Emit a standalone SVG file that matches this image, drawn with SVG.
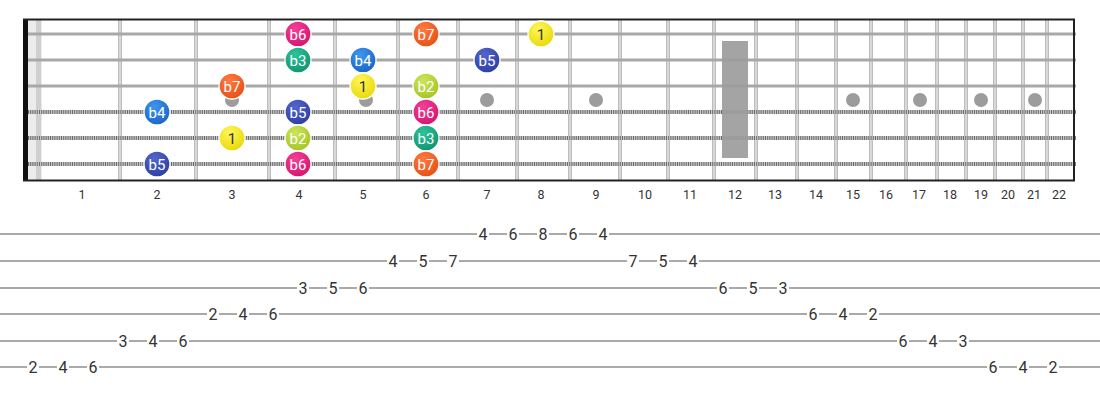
<svg xmlns="http://www.w3.org/2000/svg" width="1100" height="400" viewBox="0 0 1100 400">
<style>
.fw{fill:#bdbdbd}
.fwc{fill:#f4f4f4}
.ps{stroke:#a8a8a8;stroke-width:2.8}
.wsb{stroke:#c8c8c8;stroke-width:4}
.wsd{stroke:#6a6a6a;stroke-width:4;stroke-dasharray:1 1.2}
.inlay{fill:#9c9c9c}
.fn{font-family:Roboto,"Liberation Sans",sans-serif;font-size:12.5px;fill:#333;text-anchor:middle}
.nl{font-family:Roboto,"Liberation Sans",sans-serif;font-size:15px;fill:#fff;text-anchor:middle}
.nd{fill:#333}
.nc{stroke:#fff;stroke-width:1.3}
.tl{stroke:#aaa;stroke-width:2}
.tb{fill:#fff}
.tn{font-family:Roboto,"Liberation Sans",sans-serif;font-size:16px;fill:#333;text-anchor:middle}
</style>
<defs>
<radialGradient id="g1" cx="0.4" cy="0.3" r="0.8"><stop offset="0" stop-color="#fff65a"/><stop offset="1" stop-color="#e6d600"/></radialGradient>
<radialGradient id="g2" cx="0.4" cy="0.3" r="0.8"><stop offset="0" stop-color="#cde45a"/><stop offset="1" stop-color="#9fc21e"/></radialGradient>
<radialGradient id="g3" cx="0.4" cy="0.3" r="0.8"><stop offset="0" stop-color="#2fc39a"/><stop offset="1" stop-color="#0b8f6c"/></radialGradient>
<radialGradient id="g4" cx="0.4" cy="0.3" r="0.8"><stop offset="0" stop-color="#3f95f0"/><stop offset="1" stop-color="#1560c0"/></radialGradient>
<radialGradient id="g5" cx="0.4" cy="0.3" r="0.8"><stop offset="0" stop-color="#5366cc"/><stop offset="1" stop-color="#2a3a9e"/></radialGradient>
<radialGradient id="g6" cx="0.4" cy="0.3" r="0.8"><stop offset="0" stop-color="#f24096"/><stop offset="1" stop-color="#d40f6c"/></radialGradient>
<radialGradient id="g7" cx="0.4" cy="0.3" r="0.8"><stop offset="0" stop-color="#ff7a40"/><stop offset="1" stop-color="#e24d12"/></radialGradient>
</defs>
<rect width="1100" height="400" fill="#fff"/>
<g id="fretboard">
<rect x="28" y="20" width="14" height="160" fill="#ececec"/>
<rect x="36" y="20" width="5" height="160" fill="#cfcfcf"/>
<g id="frets">
<rect class="fw" x="118" y="20" width="4" height="160"/><rect class="fwc" x="119.5" y="20" width="1" height="160"/>
<rect class="fw" x="194" y="20" width="4" height="160"/><rect class="fwc" x="195.5" y="20" width="1" height="160"/>
<rect class="fw" x="267" y="20" width="4" height="160"/><rect class="fwc" x="268.5" y="20" width="1" height="160"/>
<rect class="fw" x="333" y="20" width="4" height="160"/><rect class="fwc" x="334.5" y="20" width="1" height="160"/>
<rect class="fw" x="396" y="20" width="4" height="160"/><rect class="fwc" x="397.5" y="20" width="1" height="160"/>
<rect class="fw" x="456" y="20" width="4" height="160"/><rect class="fwc" x="457.5" y="20" width="1" height="160"/>
<rect class="fw" x="515" y="20" width="4" height="160"/><rect class="fwc" x="516.5" y="20" width="1" height="160"/>
<rect class="fw" x="568" y="20" width="4" height="160"/><rect class="fwc" x="569.5" y="20" width="1" height="160"/>
<rect class="fw" x="618" y="20" width="4" height="160"/><rect class="fwc" x="619.5" y="20" width="1" height="160"/>
<rect class="fw" x="666" y="20" width="4" height="160"/><rect class="fwc" x="667.5" y="20" width="1" height="160"/>
<rect class="fw" x="712" y="20" width="4" height="160"/><rect class="fwc" x="713.5" y="20" width="1" height="160"/>
<rect class="fw" x="754" y="20" width="4" height="160"/><rect class="fwc" x="755.5" y="20" width="1" height="160"/>
<rect class="fw" x="795" y="20" width="4" height="160"/><rect class="fwc" x="796.5" y="20" width="1" height="160"/>
<rect class="fw" x="834" y="20" width="4" height="160"/><rect class="fwc" x="835.5" y="20" width="1" height="160"/>
<rect class="fw" x="869" y="20" width="4" height="160"/><rect class="fwc" x="870.5" y="20" width="1" height="160"/>
<rect class="fw" x="904" y="20" width="4" height="160"/><rect class="fwc" x="905.5" y="20" width="1" height="160"/>
<rect class="fw" x="935" y="20" width="4" height="160"/><rect class="fwc" x="936.5" y="20" width="1" height="160"/>
<rect class="fw" x="964" y="20" width="4" height="160"/><rect class="fwc" x="965.5" y="20" width="1" height="160"/>
<rect class="fw" x="993" y="20" width="4" height="160"/><rect class="fwc" x="994.5" y="20" width="1" height="160"/>
<rect class="fw" x="1021" y="20" width="4" height="160"/><rect class="fwc" x="1022.5" y="20" width="1" height="160"/>
<rect class="fw" x="1045" y="20" width="4" height="160"/><rect class="fwc" x="1046.5" y="20" width="1" height="160"/>
</g>
<g id="inlays">
<circle class="inlay" cx="232" cy="100" r="7"/>
<circle class="inlay" cx="366" cy="100" r="7"/>
<circle class="inlay" cx="487" cy="100" r="7"/>
<circle class="inlay" cx="596" cy="100" r="7"/>
<circle class="inlay" cx="853" cy="100" r="7"/>
<circle class="inlay" cx="920" cy="100" r="7"/>
<circle class="inlay" cx="981" cy="100" r="7"/>
<circle class="inlay" cx="1035" cy="100" r="7"/>
</g>
<g id="strings">
<line class="ps" x1="28" y1="34" x2="1076" y2="34"/>
<line class="ps" x1="28" y1="60" x2="1076" y2="60"/>
<line class="ps" x1="28" y1="86" x2="1076" y2="86"/>
<line class="wsb" x1="28" y1="112" x2="1076" y2="112"/><line class="wsd" x1="28" y1="112" x2="1076" y2="112"/>
<line class="wsb" x1="28" y1="138" x2="1076" y2="138"/><line class="wsd" x1="28" y1="138" x2="1076" y2="138"/>
<line class="wsb" x1="28" y1="164" x2="1076" y2="164"/><line class="wsd" x1="28" y1="164" x2="1076" y2="164"/>
</g>
<rect id="fret12-marker" x="722" y="41" width="26" height="117" fill="#9c9c9c" opacity="0.92"/>
<rect x="23" y="19" width="5" height="162" fill="#111"/>
<line x1="23" y1="19.5" x2="1075" y2="19.5" stroke="#222" stroke-width="2"/>
<line x1="23" y1="180.5" x2="1075" y2="180.5" stroke="#222" stroke-width="2"/>
<line x1="1074" y1="19" x2="1074" y2="181" stroke="#222" stroke-width="2"/>
</g>
<g id="fret-numbers">
<text class="fn" x="82" y="199">1</text><text class="fn" x="157" y="199">2</text><text class="fn" x="232" y="199">3</text><text class="fn" x="299" y="199">4</text><text class="fn" x="363" y="199">5</text><text class="fn" x="426" y="199">6</text><text class="fn" x="487" y="199">7</text><text class="fn" x="541" y="199">8</text><text class="fn" x="596" y="199">9</text><text class="fn" x="645" y="199">10</text><text class="fn" x="690" y="199">11</text><text class="fn" x="735" y="199">12</text><text class="fn" x="775" y="199">13</text><text class="fn" x="816" y="199">14</text><text class="fn" x="853" y="199">15</text><text class="fn" x="886" y="199">16</text><text class="fn" x="919" y="199">17</text><text class="fn" x="950" y="199">18</text><text class="fn" x="981" y="199">19</text><text class="fn" x="1008" y="199">20</text><text class="fn" x="1034" y="199">21</text><text class="fn" x="1059" y="199">22</text>
</g>
<g id="notes">
<g id="n-s1-f4"><circle class="nc" cx="298" cy="34" r="13" fill="url(#g6)"/><text class="nl" x="298" y="39.5">b6</text></g>
<g id="n-s1-f6"><circle class="nc" cx="426" cy="34" r="13" fill="url(#g7)"/><text class="nl" x="426" y="39.5">b7</text></g>
<g id="n-s1-f8"><circle class="nc" cx="541" cy="34" r="13" fill="url(#g1)"/><text class="nl nd" x="541" y="39.5">1</text></g>
<g id="n-s2-f4"><circle class="nc" cx="298" cy="60" r="13" fill="url(#g3)"/><text class="nl" x="298" y="65.5">b3</text></g>
<g id="n-s2-f5"><circle class="nc" cx="363" cy="60" r="13" fill="url(#g4)"/><text class="nl" x="363" y="65.5">b4</text></g>
<g id="n-s2-f7"><circle class="nc" cx="487" cy="60" r="13" fill="url(#g5)"/><text class="nl" x="487" y="65.5">b5</text></g>
<g id="n-s3-f3"><circle class="nc" cx="232" cy="86" r="13" fill="url(#g7)"/><text class="nl" x="232" y="91.5">b7</text></g>
<g id="n-s3-f5"><circle class="nc" cx="363" cy="86" r="13" fill="url(#g1)"/><text class="nl nd" x="363" y="91.5">1</text></g>
<g id="n-s3-f6"><circle class="nc" cx="426" cy="86" r="13" fill="url(#g2)"/><text class="nl" x="426" y="91.5">b2</text></g>
<g id="n-s4-f2"><circle class="nc" cx="157" cy="112" r="13" fill="url(#g4)"/><text class="nl" x="157" y="117.5">b4</text></g>
<g id="n-s4-f4"><circle class="nc" cx="298" cy="112" r="13" fill="url(#g5)"/><text class="nl" x="298" y="117.5">b5</text></g>
<g id="n-s4-f6"><circle class="nc" cx="426" cy="112" r="13" fill="url(#g6)"/><text class="nl" x="426" y="117.5">b6</text></g>
<g id="n-s5-f3"><circle class="nc" cx="232" cy="138" r="13" fill="url(#g1)"/><text class="nl nd" x="232" y="143.5">1</text></g>
<g id="n-s5-f4"><circle class="nc" cx="298" cy="138" r="13" fill="url(#g2)"/><text class="nl" x="298" y="143.5">b2</text></g>
<g id="n-s5-f6"><circle class="nc" cx="426" cy="138" r="13" fill="url(#g3)"/><text class="nl" x="426" y="143.5">b3</text></g>
<g id="n-s6-f2"><circle class="nc" cx="157" cy="164" r="13" fill="url(#g5)"/><text class="nl" x="157" y="169.5">b5</text></g>
<g id="n-s6-f4"><circle class="nc" cx="298" cy="164" r="13" fill="url(#g6)"/><text class="nl" x="298" y="169.5">b6</text></g>
<g id="n-s6-f6"><circle class="nc" cx="426" cy="164" r="13" fill="url(#g7)"/><text class="nl" x="426" y="169.5">b7</text></g>
</g>
<g id="tab-lines">
<line class="tl" x1="0" y1="234" x2="1100" y2="234"/>
<line class="tl" x1="0" y1="261" x2="1100" y2="261"/>
<line class="tl" x1="0" y1="288" x2="1100" y2="288"/>
<line class="tl" x1="0" y1="314" x2="1100" y2="314"/>
<line class="tl" x1="0" y1="341" x2="1100" y2="341"/>
<line class="tl" x1="0" y1="367" x2="1100" y2="367"/>
</g>
<g id="tab-numbers">
<g transform="translate(0,367)"><rect class="tb" x="27" y="-8" width="12" height="16"/><text class="tn" x="33" y="6">2</text><rect class="tb" x="57" y="-8" width="12" height="16"/><text class="tn" x="63" y="6">4</text><rect class="tb" x="87" y="-8" width="12" height="16"/><text class="tn" x="93" y="6">6</text><rect class="tb" x="987" y="-8" width="12" height="16"/><text class="tn" x="993" y="6">6</text><rect class="tb" x="1017" y="-8" width="12" height="16"/><text class="tn" x="1023" y="6">4</text><rect class="tb" x="1047" y="-8" width="12" height="16"/><text class="tn" x="1053" y="6">2</text></g>
<g transform="translate(0,341)"><rect class="tb" x="117" y="-8" width="12" height="16"/><text class="tn" x="123" y="6">3</text><rect class="tb" x="147" y="-8" width="12" height="16"/><text class="tn" x="153" y="6">4</text><rect class="tb" x="177" y="-8" width="12" height="16"/><text class="tn" x="183" y="6">6</text><rect class="tb" x="897" y="-8" width="12" height="16"/><text class="tn" x="903" y="6">6</text><rect class="tb" x="927" y="-8" width="12" height="16"/><text class="tn" x="933" y="6">4</text><rect class="tb" x="957" y="-8" width="12" height="16"/><text class="tn" x="963" y="6">3</text></g>
<g transform="translate(0,314)"><rect class="tb" x="207" y="-8" width="12" height="16"/><text class="tn" x="213" y="6">2</text><rect class="tb" x="237" y="-8" width="12" height="16"/><text class="tn" x="243" y="6">4</text><rect class="tb" x="267" y="-8" width="12" height="16"/><text class="tn" x="273" y="6">6</text><rect class="tb" x="807" y="-8" width="12" height="16"/><text class="tn" x="813" y="6">6</text><rect class="tb" x="837" y="-8" width="12" height="16"/><text class="tn" x="843" y="6">4</text><rect class="tb" x="867" y="-8" width="12" height="16"/><text class="tn" x="873" y="6">2</text></g>
<g transform="translate(0,288)"><rect class="tb" x="297" y="-8" width="12" height="16"/><text class="tn" x="303" y="6">3</text><rect class="tb" x="327" y="-8" width="12" height="16"/><text class="tn" x="333" y="6">5</text><rect class="tb" x="357" y="-8" width="12" height="16"/><text class="tn" x="363" y="6">6</text><rect class="tb" x="717" y="-8" width="12" height="16"/><text class="tn" x="723" y="6">6</text><rect class="tb" x="747" y="-8" width="12" height="16"/><text class="tn" x="753" y="6">5</text><rect class="tb" x="777" y="-8" width="12" height="16"/><text class="tn" x="783" y="6">3</text></g>
<g transform="translate(0,261)"><rect class="tb" x="387" y="-8" width="12" height="16"/><text class="tn" x="393" y="6">4</text><rect class="tb" x="417" y="-8" width="12" height="16"/><text class="tn" x="423" y="6">5</text><rect class="tb" x="447" y="-8" width="12" height="16"/><text class="tn" x="453" y="6">7</text><rect class="tb" x="627" y="-8" width="12" height="16"/><text class="tn" x="633" y="6">7</text><rect class="tb" x="657" y="-8" width="12" height="16"/><text class="tn" x="663" y="6">5</text><rect class="tb" x="687" y="-8" width="12" height="16"/><text class="tn" x="693" y="6">4</text></g>
<g transform="translate(0,234)"><rect class="tb" x="477" y="-8" width="12" height="16"/><text class="tn" x="483" y="6">4</text><rect class="tb" x="507" y="-8" width="12" height="16"/><text class="tn" x="513" y="6">6</text><rect class="tb" x="537" y="-8" width="12" height="16"/><text class="tn" x="543" y="6">8</text><rect class="tb" x="567" y="-8" width="12" height="16"/><text class="tn" x="573" y="6">6</text><rect class="tb" x="597" y="-8" width="12" height="16"/><text class="tn" x="603" y="6">4</text></g>
</g>
</svg>
